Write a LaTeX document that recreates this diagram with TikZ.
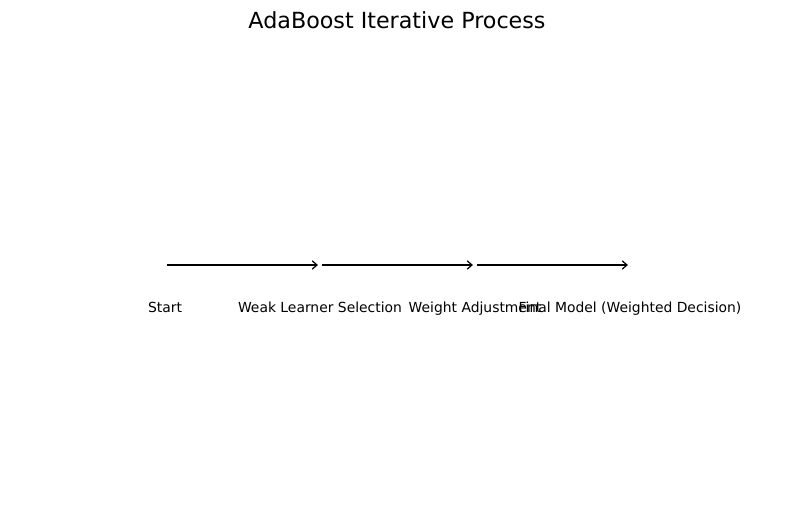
\documentclass[tikz,border=0pt]{standalone}
\usepackage{fontspec}
\setmainfont{DejaVu Sans}
\usetikzlibrary{arrows.meta}
\begin{document}
\begin{tikzpicture}[x=0.72pt,y=-0.72pt,
  lbl/.style={font=\fontsize{10pt}{12pt}\selectfont, inner sep=0pt, text height=7.6pt, text depth=2.4pt},
  flow/.style={-{Straight Barb[length=3.5pt,width=6pt]}, line width=0.85pt, shorten <=1.5pt, shorten >=1.5pt}]
\useasboundingbox (0,0) rectangle (794,506);
\node[font=\fontsize{16pt}{19pt}\selectfont] (title) at (397,20) {AdaBoost Iterative Process};
\coordinate (p1) at (165,265);
\coordinate (p2) at (320,265);
\coordinate (p3) at (475,265);
\coordinate (p4) at (630,265);
\draw[flow] (p1) -- (p2);
\draw[flow] (p2) -- (p3);
\draw[flow] (p3) -- (p4);
\node[lbl] (l1) at (165,309) {Start};
\node[lbl] (l2) at (320,309) {Weak Learner Selection};
\node[lbl] (l3) at (475,309) {Weight Adjustment};
\node[lbl] (l4) at (630,309) {Final Model (Weighted Decision)};
\end{tikzpicture}
\end{document}
